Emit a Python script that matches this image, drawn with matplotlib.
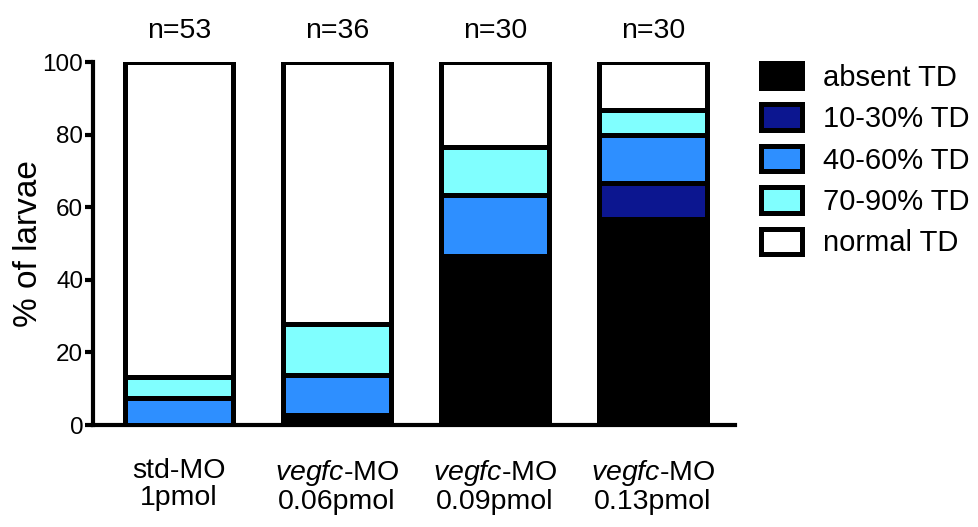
import matplotlib
matplotlib.use("Agg")
import matplotlib.pyplot as plt
import numpy as np
from matplotlib.patches import Patch

plt.rcParams['font.family'] = ['Liberation Sans', 'DejaVu Sans']
plt.rcParams['mathtext.fontset'] = 'custom'
plt.rcParams['mathtext.rm'] = 'Liberation Sans'
plt.rcParams['mathtext.it'] = 'Liberation Sans:italic'

groups = ["std-MO\n1pmol", r"$\it{vegfc}$-MO" + "\n0.06pmol",
          r"$\it{vegfc}$-MO" + "\n0.09pmol", r"$\it{vegfc}$-MO" + "\n0.13pmol"]
n_labels = ["n=53", "n=36", "n=30", "n=30"]
series_names = ["absent TD", "10-30% TD", "40-60% TD", "70-90% TD", "normal TD"]
absent = [0.0, 2.8, 46.7, 56.7]
td_10_30 = [0.0, 0.0, 0.0, 10.0]
td_40_60 = [7.5, 11.1, 16.7, 13.3]
td_70_90 = [5.7, 13.9, 13.3, 6.7]
normal = [86.8, 72.2, 23.3, 13.3]
colors = ["#000000", "#0c1690", "#2e8fff", "#80ffff", "#ffffff"]

fig = plt.figure(figsize=(9.79, 5.27), dpi=100)
ax = fig.add_axes([0.095, 0.1935, 0.656, 0.6885])

x = np.arange(len(groups))
bottom = np.zeros(len(groups))
lw = 3.6
for vals, c in zip([absent, td_10_30, td_40_60, td_70_90, normal], colors):
    ax.bar(x, vals, bottom=bottom, width=0.68, color=c, edgecolor="black",
           linewidth=lw, zorder=3)
    bottom += np.array(vals)

ax.set_ylim(0, 100)
ax.set_xlim(-0.544, 3.52)
ax.set_yticks([0, 20, 40, 60, 80, 100])
ax.tick_params(axis='y', length=6, width=3, labelsize=17.5, pad=1, direction='out')
ax.set_xticks(x)
ax.set_xticklabels(groups, fontsize=20.5, linespacing=1.05)
ax.tick_params(axis='x', length=0, pad=24)
for s in ["top", "right"]:
    ax.spines[s].set_visible(False)
for s in ["left", "bottom"]:
    ax.spines[s].set_linewidth(3)
ax.set_ylabel("% of larvae", fontsize=24, labelpad=-1)

for xi, t in zip(x, n_labels):
    ax.text(xi, 1.05, t, transform=ax.get_xaxis_transform(), ha='center',
            va='bottom', fontsize=20.5)

handles = [Patch(facecolor=c, edgecolor='black', linewidth=lw, label=n)
           for c, n in zip(colors, series_names)]
ax.legend(handles=handles, loc='upper left', bbox_to_anchor=(1.0, 1.07),
          frameon=False, fontsize=21, handlelength=1.4, handleheight=0.95,
          labelspacing=0.44, handletextpad=0.7)

fig.savefig("out.png", dpi=100)
